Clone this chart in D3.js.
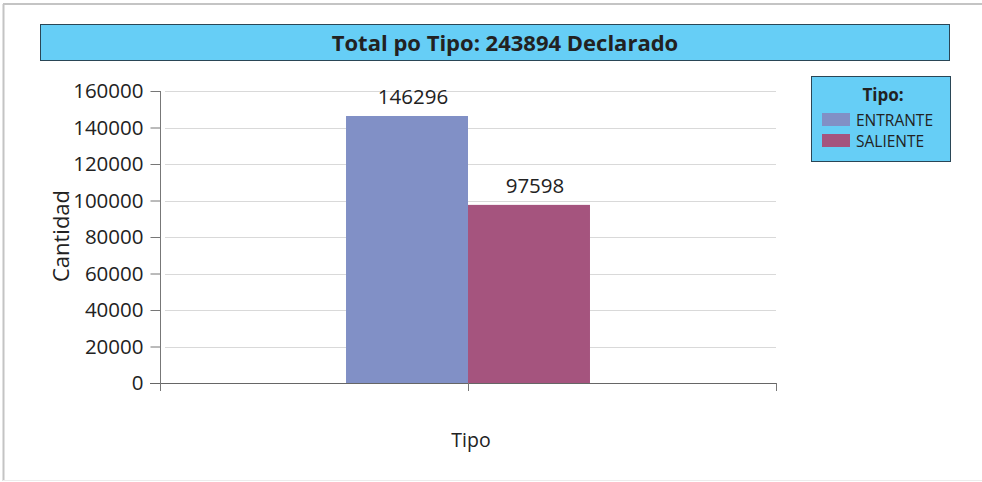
<!DOCTYPE html>
<html><head><meta charset="utf-8">
<script src="https://cdn.jsdelivr.net/npm/d3@7/dist/d3.min.js"></script>
<style>
html,body{margin:0;padding:0;background:#fff;}
svg{display:block;font-family:"Open Sans","Noto Sans",sans-serif;}
</style></head>
<body>
<svg id="c" width="982" height="482"></svg>
<script>
const title = "Total po Tipo: 243894 Declarado";
const categories = [""];
const seriesNames = ["ENTRANTE", "SALIENTE"];
const seriesValues = [146296, 97598];
const seriesColors = ["#8190C6", "#A5547E"];
const yTicks = [0, 20000, 40000, 60000, 80000, 100000, 120000, 140000, 160000];
const yTitle = "Cantidad";
const xTitle = "Tipo";
const legendTitle = "Tipo:";

const svg = d3.select("#c");

// outer frame
svg.append("line").attr("x1",3).attr("x2",982).attr("y1",4).attr("y2",4).attr("stroke","#c4c4c4").attr("stroke-width",2);
svg.append("line").attr("x1",3.5).attr("x2",3.5).attr("y1",4).attr("y2",481).attr("stroke","#c4c4c4").attr("stroke-width",2);
svg.append("line").attr("x1",3).attr("x2",982).attr("y1",480.5).attr("y2",480.5).attr("stroke","#ececec").attr("stroke-width",1);

// title box
svg.append("rect").attr("x",40.5).attr("y",24.5).attr("width",909).attr("height",36)
  .attr("fill","#66CEF6").attr("stroke","#2a4656").attr("stroke-width",1);
svg.append("text").attr("x",505).attr("y",51).attr("text-anchor","middle")
  .attr("font-size",22).attr("font-weight","bold").attr("fill","#222").text(title);

const y = d3.scaleLinear().domain([0,160000]).range([383,91]);
const x0 = d3.scaleBand().domain(categories).range([160,776]).padding(0);
const x1 = d3.scaleBand().domain(seriesNames).range([0,x0.bandwidth()]).paddingInner(0).paddingOuter(1.525);

// gridlines
svg.append("g").selectAll("line").data(yTicks.filter(d=>d>0)).join("line")
  .attr("x1",165).attr("x2",776).attr("y1",d=>Math.round(y(d))+0.5).attr("y2",d=>Math.round(y(d))+0.5)
  .attr("stroke","#d9d9d9").attr("stroke-width",1.2);

// bars
const g = svg.append("g");
categories.forEach(cat=>{
  seriesNames.forEach((s,i)=>{
    const v = seriesValues[i];
    g.append("rect").attr("x",x0(cat)+x1(s)).attr("y",y(v))
      .attr("width",x1.bandwidth()).attr("height",y(0)-y(v)).attr("fill",seriesColors[i]);
    g.append("text").attr("x",x0(cat)+x1(s)+x1.bandwidth()/2+6).attr("y",y(v)-12)
      .attr("text-anchor","middle").attr("font-size",20.5).attr("fill","#222").text(v);
  });
});

// y axis
const yAxis = svg.append("g").attr("transform","translate(160.5,0)")
  .call(d3.axisLeft(y).tickValues(yTicks).tickSize(10).tickPadding(7).tickFormat(d=>String(d)));
yAxis.select(".domain").remove();
yAxis.selectAll(".tick line").attr("stroke","#777");
yAxis.selectAll(".tick text").attr("font-size",20.5).attr("fill","#222").attr("font-family","'Open Sans',sans-serif").attr("dy","0.34em");
svg.append("line").attr("x1",160.5).attr("x2",160.5).attr("y1",91).attr("y2",391).attr("stroke","#777");

// x axis
svg.append("line").attr("x1",150).attr("x2",776).attr("y1",383.5).attr("y2",383.5).attr("stroke","#666");
const xTickPos = [x0.range()[0], x0(categories[0])+x0.bandwidth()/2, x0.range()[1]];
svg.append("g").selectAll("line").data(xTickPos).join("line")
  .attr("x1",d=>Math.round(d)+0.5).attr("x2",d=>Math.round(d)+0.5).attr("y1",383).attr("y2",391).attr("stroke","#777");

// axis titles
svg.append("text").attr("transform","translate(69,236) rotate(-90)").attr("text-anchor","middle")
  .attr("font-size",22).attr("fill","#222").text(yTitle);
svg.append("text").attr("x",471).attr("y",447).attr("text-anchor","middle")
  .attr("font-size",19.5).attr("fill","#222").text(xTitle);

// legend
const lg = svg.append("g");
lg.append("rect").attr("x",811.5).attr("y",76.5).attr("width",139).attr("height",85)
  .attr("fill","#66CEF6").attr("stroke","#2a4656").attr("stroke-width",1);
lg.append("text").attr("x",883).attr("y",101).attr("text-anchor","middle").attr("font-size",17)
  .attr("font-weight","bold").attr("fill","#222").text(legendTitle);
seriesNames.forEach((s,i)=>{
  lg.append("rect").attr("x",822).attr("y",113+i*21).attr("width",28).attr("height",13).attr("fill",seriesColors[i]);
  lg.append("text").attr("x",856).attr("y",125.5+i*21).attr("font-size",15.5).attr("fill","#222").text(s);
});
</script>
</body></html>
